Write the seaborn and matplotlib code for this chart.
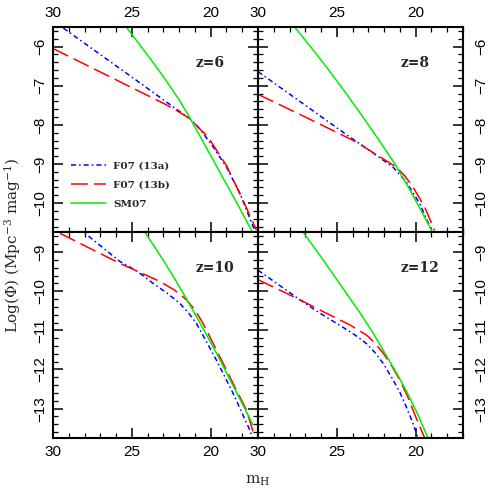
import numpy as np
import pandas as pd
import matplotlib
matplotlib.use("Agg")
import matplotlib.pyplot as plt
from matplotlib.ticker import MultipleLocator
import seaborn as sns

# Valores: magnitud m_H y log(phi) por modelo y redshift
z6_13a_mag = [30.0, 27.5, 25.0, 23.0, 22.0, 21.33, 20.9, 20.49, 19.75, 19.0, 18.16, 17.22, 16.9]
z6_13a_phi = [-5.34, -6.06, -6.78, -7.36, -7.65, -7.84, -8.01, -8.21, -8.62, -9.08, -9.74, -10.69, -11.0]
z6_13b_mag = [30.0, 27.0, 24.5, 22.9, 22.17, 21.33, 20.7, 20.17, 19.0, 17.95, 17.1]
z6_13b_phi = [-6.05, -6.65, -7.15, -7.47, -7.63, -7.84, -8.10, -8.31, -9.04, -9.93, -10.69]
z6_sm07_mag = [25.6, 25.32, 24.0, 23.0, 22.0, 21.33, 20.5, 19.64, 18.5, 17.42, 17.0]
z6_sm07_phi = [-5.37, -5.52, -6.22, -6.77, -7.36, -7.82, -8.42, -9.05, -9.88, -10.69, -11.0]

z8_13a_mag = [30.0, 27.0, 24.5, 22.7, 21.44, 20.59, 19.75, 19.0, 18.6]
z8_13a_phi = [-6.64, -7.50, -8.22, -8.72, -9.08, -9.46, -10.01, -10.69, -11.1]
z8_13b_mag = [30.0, 27.0, 23.75, 22.7, 21.22, 20.7, 20.17, 19.43, 18.8]
z8_13b_phi = [-7.22, -7.80, -8.44, -8.71, -9.08, -9.30, -9.59, -10.10, -10.70]
z8_sm07_mag = [28.5, 27.66, 26.5, 25.65, 24.5, 23.54, 22.4, 21.33, 20.38, 19.0, 18.5]
z8_sm07_phi = [-5.08, -5.51, -6.09, -6.53, -7.15, -7.69, -8.35, -8.99, -9.65, -10.69, -11.05]

z10_13a_mag = [28.4, 27.97, 27.45, 25.76, 24.7, 23.65, 22.8, 21.96, 21.4, 20.91, 20.3, 19.64, 18.59, 17.53, 17.3]
z10_13a_phi = [-8.40, -8.52, -8.69, -9.24, -9.48, -9.80, -10.04, -10.31, -10.56, -10.82, -11.27, -11.76, -12.60, -13.54, -13.8]
z10_13b_mag = [29.56, 28.72, 25.76, 24.7, 23.23, 22.3, 21.54, 21.0, 20.49, 19.64, 18.59, 17.74, 17.32]
z10_13b_phi = [-8.52, -8.69, -9.29, -9.48, -9.75, -9.97, -10.22, -10.48, -10.82, -11.50, -12.35, -13.03, -13.58]
z10_sm07_mag = [24.4, 24.18, 23.02, 22.2, 21.43, 20.5, 19.64, 18.5, 17.32]
z10_sm07_phi = [-8.36, -8.49, -9.20, -9.74, -10.27, -10.94, -11.58, -12.48, -13.41]

z12_13a_mag = [30.0, 29.87, 27.34, 26.08, 24.18, 23.6, 23.12, 22.6, 22.07, 21.5, 21.01, 20.6, 20.17, 19.85]
z12_13a_phi = [-9.46, -9.50, -10.22, -10.56, -11.03, -11.19, -11.34, -11.56, -11.84, -12.22, -12.58, -12.95, -13.38, -13.75]
z12_13b_mag = [30.0, 29.87, 27.34, 26.08, 24.18, 23.12, 22.6, 22.07, 21.5, 21.01, 20.5, 19.96, 19.43]
z12_13b_phi = [-9.70, -9.73, -10.22, -10.48, -10.86, -11.12, -11.32, -11.58, -11.92, -12.27, -12.70, -13.25, -13.75]
z12_sm07_mag = [27.4, 27.15, 25.87, 24.7, 23.54, 22.7, 21.96, 21.2, 20.59, 19.9, 19.22]
z12_sm07_phi = [-8.35, -8.49, -9.20, -9.88, -10.55, -11.07, -11.58, -12.10, -12.55, -13.12, -13.75]

redshifts = [6, 8, 10, 12]
models = ["F07 (13a)", "F07 (13b)", "SM07"]
colores = {"F07 (13a)": "#0000ff", "F07 (13b)": "#ff0000", "SM07": "#00ee00"}
trazos = {"F07 (13a)": (3.3, 2.0, 1.0, 2.0), "F07 (13b)": (11, 4), "SM07": ""}

curvas = {
    (6, "F07 (13a)"): (z6_13a_mag, z6_13a_phi),
    (6, "F07 (13b)"): (z6_13b_mag, z6_13b_phi),
    (6, "SM07"): (z6_sm07_mag, z6_sm07_phi),
    (8, "F07 (13a)"): (z8_13a_mag, z8_13a_phi),
    (8, "F07 (13b)"): (z8_13b_mag, z8_13b_phi),
    (8, "SM07"): (z8_sm07_mag, z8_sm07_phi),
    (10, "F07 (13a)"): (z10_13a_mag, z10_13a_phi),
    (10, "F07 (13b)"): (z10_13b_mag, z10_13b_phi),
    (10, "SM07"): (z10_sm07_mag, z10_sm07_phi),
    (12, "F07 (13a)"): (z12_13a_mag, z12_13a_phi),
    (12, "F07 (13b)"): (z12_13b_mag, z12_13b_phi),
    (12, "SM07"): (z12_sm07_mag, z12_sm07_phi),
}

filas = []
for (z, m), (xs, ys) in curvas.items():
    for x, y in zip(xs, ys):
        filas.append({"z": z, "model": m, "mag": x, "logphi": y})
df = pd.DataFrame(filas)

sns.set_theme(style="ticks")
plt.rcParams["font.family"] = ["Liberation Sans", "DejaVu Sans"]
plt.rcParams["mathtext.fontset"] = "dejavuserif"

fig, axes = plt.subplots(2, 2, figsize=(4.91, 4.91), dpi=100)
fig.subplots_adjust(left=0.108, right=0.943, top=0.945, bottom=0.108,
                    wspace=0, hspace=0)

ylims = {0: (-10.75, -5.5), 1: (-13.75, -8.5)}

for k, z in enumerate(redshifts):
    fila, col = divmod(k, 2)
    ax = axes[fila, col]
    sub = df[df["z"] == z]
    sns.lineplot(data=sub, x="mag", y="logphi", hue="model", style="model",
                 hue_order=models, style_order=models, palette=colores,
                 dashes=trazos, sort=False, estimator=None,
                 linewidth=1.1, legend=(k == 0), ax=ax)
    ax.set_xlim(30, 17)
    ax.set_ylim(*ylims[fila])
    ax.xaxis.set_major_locator(MultipleLocator(5))
    ax.xaxis.set_minor_locator(MultipleLocator(1))
    ax.yaxis.set_major_locator(MultipleLocator(1))
    ax.yaxis.set_minor_locator(MultipleLocator(0.2))
    ax.tick_params(which="both", direction="in", top=True, right=True,
                   bottom=True, left=True, colors="black")
    ax.tick_params(which="major", length=7, width=1.1)
    ax.tick_params(which="minor", length=3.5, width=0.9)
    ax.tick_params(axis="both", labelsize=11)
    ax.tick_params(axis="x", pad=5,
                   labeltop=(fila == 0), labelbottom=(fila == 1))
    ax.tick_params(axis="y", labelrotation=90,
                   labelleft=(col == 0), labelright=(col == 1),
                   pad=(4 if col == 0 else 8))
    for lab in ax.get_yticklabels():
        lab.set_va("center")
    for s in ax.spines.values():
        s.set_linewidth(1.5)
        s.set_color("black")
    ax.set_xlabel("")
    ax.set_ylabel("")
    ax.text(0.695, 0.825, f"z={z}", transform=ax.transAxes,
            fontsize=10, fontweight="bold", family="DejaVu Serif",
            ha="left", va="center")

leg = axes[0, 0].legend(loc="center left", bbox_to_anchor=(0.09, 0.232),
                        frameon=False, handlelength=3.3, handletextpad=0.7,
                        labelspacing=0.95, borderpad=0, borderaxespad=0,
                        prop={"family": "DejaVu Serif", "weight": "bold", "size": 7.5})

fig.text(13 / 491, 0.5, r"Log($\Phi$) (Mpc$^{-3}$ mag$^{-1}$)", rotation=90,
         ha="center", va="center", fontsize=11, family="DejaVu Serif")
fig.text(258 / 491, 1 - 481 / 491, r"m$_{\rm H}$", ha="center", va="center",
         fontsize=11, family="DejaVu Serif")

fig.savefig("out.png", dpi=100)
